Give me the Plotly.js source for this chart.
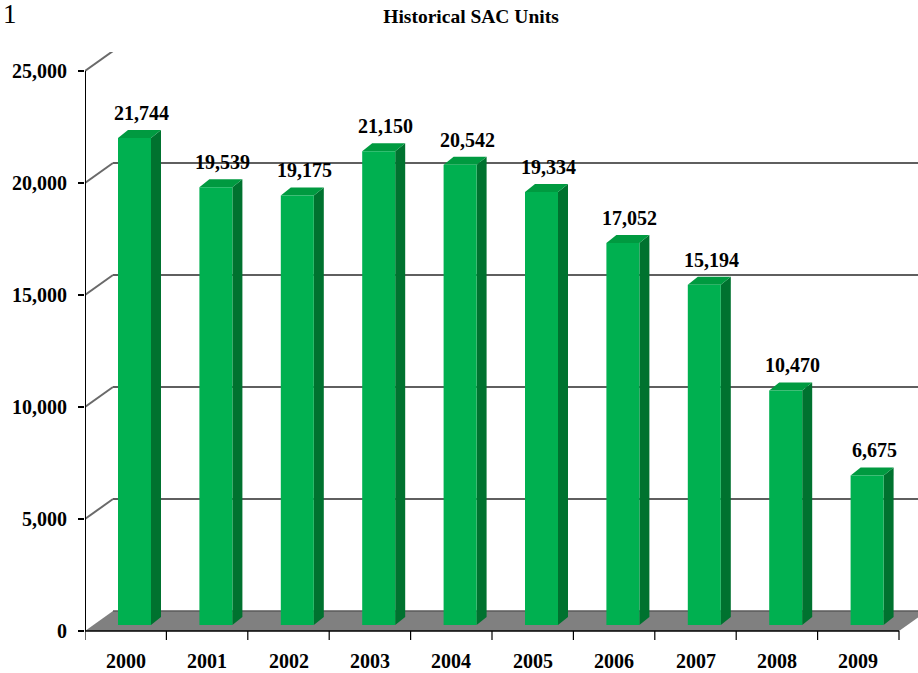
<!DOCTYPE html>
<html>
<head>
<meta charset="utf-8">
<script src="https://cdn.plot.ly/plotly-3.0.1.min.js"></script>
<style>html,body{margin:0;padding:0;background:#fff;}#chart{width:918px;height:673px;}</style>
</head>
<body>
<div id="chart"></div>
<script>
// ---- data ----
const years = ['2000','2001','2002','2003','2004','2005','2006','2007','2008','2009'];
const units = [21744, 19539, 19175, 21150, 20542, 19334, 17052, 15194, 10470, 6675];
const yTickVals = [0, 5000, 10000, 15000, 20000, 25000];
const chartTitle = 'Historical SAC Units';
const pageNumber = '1';

// ---- geometry (pixel scale of the pseudo-3D chart) ----
const W = 918, H = 673;
const plotL = 85, plotR = 918, plotT = 52, plotB = 640;
const zeroPx = 631;            // pixel row of value 0 on the front plane
const pxPerCat = 81.4;         // px per category
const pxPerUnit = 0.0224;      // px per unit of value
const ux = px => px / pxPerCat;    // px -> x data units
const uy = px => px / pxPerUnit;   // px -> y data units

const xMin = -0.5, xMax = -0.5 + ux(plotR - plotL);
const yMin = -uy(plotB - zeroPx), yMax = uy(zeroPx - plotT);

const wallDX = ux(28), wallDY = uy(20);     // back-wall depth offset
const barOffX = ux(8.8), barBase = uy(6);   // bars sit a bit into the depth
const barW = ux(33);
const sideDX = ux(10), sideDY = uy(8);      // bar depth

const idx = years.map((_, i) => i);
const barX = idx.map(i => i + barOffX);
const barBaseArr = idx.map(() => barBase);

const shapes = [];
// floor
const xEnd = years.length - 0.5;
shapes.push({type:'path', layer:'below', xref:'x', yref:'y',
  path:`M ${xMin},0 L ${xEnd},0 L ${xEnd+wallDX},${wallDY} L ${xMin+wallDX},${wallDY} Z`,
  fillcolor:'#808080', line:{width:0}});
shapes.push({type:'line', layer:'below', xref:'x', yref:'y', x0:xMin+wallDX, x1:xEnd+wallDX+1, y0:wallDY, y1:wallDY,
  line:{color:'#5a5a5a', width:1.5}});
// back-wall gridlines and left-wall diagonals
yTickVals.filter(v => v > 0).forEach(v => {
  const top = v === yTickVals[yTickVals.length-1];
  const col = top ? '#000000' : '#5f5f5f';
  shapes.push({type:'line', layer:'below', xref:'x', yref:'y', x0:xMin+wallDX, x1:xMax+1, y0:v+wallDY, y1:v+wallDY,
    line:{color:col, width:2}});
  shapes.push({type:'line', layer:'below', xref:'x', yref:'y', x0:xMin, x1:xMin+wallDX, y0:v, y1:v+wallDY,
    line:{color:'#6a6a6a', width:2}});
});
// bar side and top faces
units.forEach((v, i) => {
  const xl = barX[i] - barW/2, xr = barX[i] + barW/2, b = barBase, t = barBase + v;
  shapes.push({type:'path', layer:'below', xref:'x', yref:'y',
    path:`M ${xr},${b} L ${xr+sideDX},${b+sideDY} L ${xr+sideDX},${t+sideDY} L ${xr},${t} Z`,
    fillcolor:'#00722F', line:{width:0}});
  shapes.push({type:'path', layer:'below', xref:'x', yref:'y',
    path:`M ${xl},${t} L ${xr},${t} L ${xr+sideDX},${t+sideDY} L ${xl+sideDX},${t+sideDY} Z`,
    fillcolor:'#009A40', line:{width:0}});
});
// front axis lines
shapes.push({type:'line', layer:'above', xref:'x', yref:'y', x0:xMin, x1:xMin, y0:0, y1:yTickVals[yTickVals.length-1],
  line:{color:'#000', width:2}});
shapes.push({type:'line', layer:'above', xref:'x', yref:'y', x0:xMin, x1:xEnd, y0:0, y1:0,
  line:{color:'#000', width:1.5}});
// category boundary ticks
for (let i = 0; i <= years.length; i++) {
  shapes.push({type:'line', layer:'above', xref:'x', yref:'paper', x0:i-0.5, x1:i-0.5,
    y0:(plotB-zeroPx)/(plotB-plotT), y1:0,
    line:{color:'#000', width:1.2}});
}

const fontBold = {family:'"Liberation Serif", "Times New Roman", serif', size:20, color:'#000', weight:'bold'};

const annotations = [];
units.forEach((v, i) => {
  annotations.push({x:barX[i], y:barBase+v, xref:'x', yref:'y', text:'<b>'+v.toLocaleString('en-US')+'</b>',
    showarrow:false, xshift:7, yshift:25, yanchor:'middle', xanchor:'center', font:fontBold});
});
years.forEach((yr, i) => {
  annotations.push({x:i, y:0, xref:'x', yref:'y', text:'<b>'+yr+'</b>', showarrow:false,
    yshift:-30, yanchor:'middle', xanchor:'center', font:fontBold});
});
annotations.push({xref:'paper', yref:'paper', x:(10-plotL)/(plotR-plotL), y:(plotB-14)/(plotB-plotT),
  text:pageNumber, showarrow:false, xanchor:'center', yanchor:'middle',
  font:{family:'"Liberation Serif", serif', size:27, color:'#000'}});

const trace = {type:'bar', x:barX, y:units, base:barBaseArr, width:barW,
  marker:{color:'#00B050', line:{width:0}}, hoverinfo:'skip'};

const layout = {
  width:W, height:H,
  margin:{l:plotL, r:W-plotR, t:plotT, b:H-plotB, pad:0},
  paper_bgcolor:'#fff', plot_bgcolor:'#fff',
  showlegend:false,
  title:{text:'<b>'+chartTitle+'</b>', x:471/W, xanchor:'center', y:1-16/H, yanchor:'middle', yref:'container', xref:'container',
    font:{family:'"Liberation Serif", serif', size:19.5, color:'#000'}},
  xaxis:{range:[xMin, xMax], showgrid:false, zeroline:false, showline:false, showticklabels:false, ticks:'', fixedrange:true},
  yaxis:{range:[yMin, yMax], showgrid:false, zeroline:false, showline:false,
    tickvals:yTickVals, ticktext:yTickVals.map(v => '<b>'+v.toLocaleString('en-US')+'</b>'),
    ticks:'outside', ticklen:6, tickwidth:1.5, tickcolor:'#000', ticklabelstandoff:7,
    tickfont:fontBold, fixedrange:true},
  shapes:shapes, annotations:annotations
};

Plotly.newPlot('chart', [trace], layout, {displayModeBar:false, staticPlot:true});
</script>
</body>
</html>
